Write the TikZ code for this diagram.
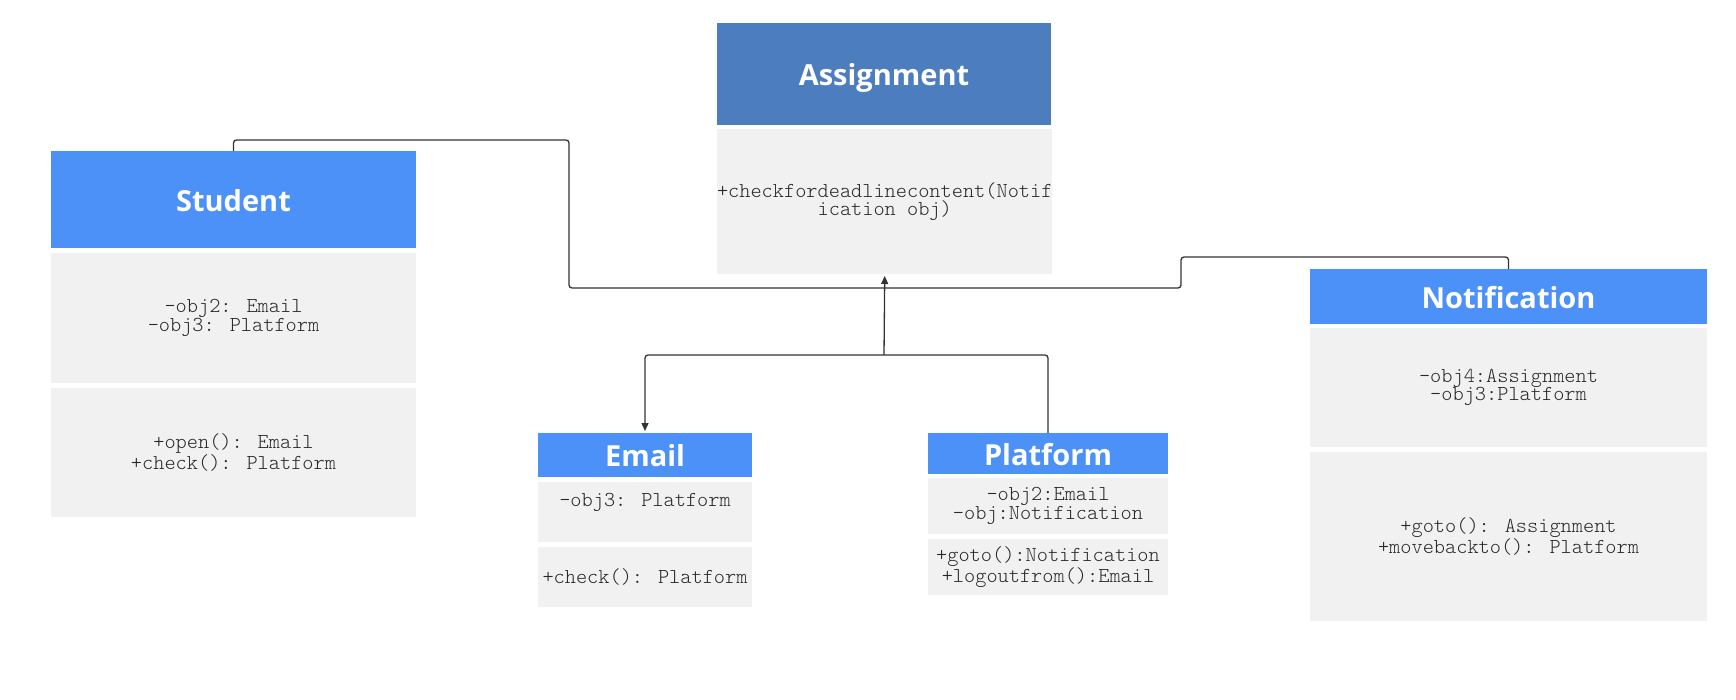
\documentclass[tikz,border=0pt]{standalone}
\usepackage{fontspec}
\usetikzlibrary{arrows.meta}
\newfontfamily\osans{Open Sans}
\newfontfamily\lmono{Latin Modern Mono Light}
\definecolor{hdark}{RGB}{76,126,191}
\definecolor{hblue}{RGB}{76,145,247}
\definecolor{bodyg}{RGB}{241,241,241}
\definecolor{txt}{RGB}{40,40,40}
\definecolor{lnc}{RGB}{51,51,51}
\tikzset{
  box/.style={anchor=north west, inner sep=0pt, outer sep=0pt, align=center},
  hdr/.style={box, fill=hblue, text=white, font=\osans\bfseries\fontsize{29}{35}\selectfont, text height=23.8pt, text depth=0pt},
  hdrdark/.style={hdr, fill=hdark},
  bodybox/.style={box, fill=bodyg, text=txt, font=\lmono\fontsize{21.3}{18.6}\selectfont},
  conn/.style={draw=lnc, line width=1.3pt, rounded corners=3pt},
  arr/.style={-{Triangle[length=8pt,width=7pt]}, shorten >=2pt}
}
\begin{document}
\begin{tikzpicture}[x=1pt,y=-1pt]
\useasboundingbox[fill=white] (0,0) rectangle (1736,699);
% Assignment
\node[hdrdark, minimum width=334pt, minimum height=102pt] (assignH) at (717,23) {Assignment};
\node[bodybox, minimum width=334pt, minimum height=145pt] (assignB) at (717,129) {+checkfordeadlinecontent(Notif\\ication obj)};
% Student
\node[hdr, minimum width=365pt, minimum height=97pt] (studentH) at (51,151) {Student};
\node[bodybox, minimum width=365pt, minimum height=130pt] (studentA) at (51,253) {-obj2: Email\\-obj3: Platform};
\node[bodybox, minimum width=365pt, minimum height=129pt] (studentM) at (51,388) {+open(): Email\\+check(): Platform};
% Email
\node[hdr, minimum width=214pt, minimum height=44pt] (emailH) at (538,433) {Email};
\node[bodybox, minimum width=214pt, minimum height=60pt] (emailA) at (538,482) {-obj3: Platform\\\strut};
\node[bodybox, minimum width=214pt, minimum height=60pt] (emailM) at (538,547) {+check(): Platform};
% Platform
\node[hdr, minimum width=240pt, minimum height=41pt] (platH) at (928,433) {Platform};
\node[bodybox, minimum width=240pt, minimum height=56pt] (platA) at (928,478) {-obj2:Email\\-obj:Notification};
\node[bodybox, minimum width=240pt, minimum height=56pt] (platM) at (928,539) {+goto():Notification\\+logoutfrom():Email};
% Notification
\node[hdr, minimum width=397pt, minimum height=55pt] (notifH) at (1310,269) {Notification};
\node[bodybox, minimum width=397pt, minimum height=119pt] (notifA) at (1310,328) {-obj4:Assignment\\-obj3:Platform};
\node[bodybox, minimum width=397pt, minimum height=169pt] (notifM) at (1310,452) {+goto(): Assignment\\+movebackto(): Platform};
% connectors
\draw[conn] (studentH.north) -- (233.5,140) -- (569,140) -- (569,288) -- (1181,288) -- (1181,257) -- (1508.5,257) -- (notifH.north);
\coordinate (j) at (884,355);
\draw[conn] (platH.north) |- (j);
\draw[conn,arr] (j) -| (emailH.north);
\draw[conn,arr] (j) -- (assignB.south);
\end{tikzpicture}
\end{document}
